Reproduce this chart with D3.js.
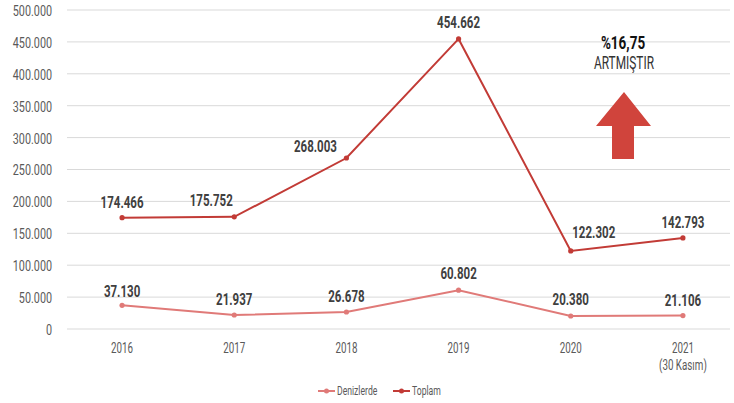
<!DOCTYPE html>
<html><head><meta charset="utf-8">
<script src="https://cdn.jsdelivr.net/npm/d3@7/dist/d3.min.js"></script>
<style>
body{margin:0;background:#fff;}
text{font-family:Roboto,"Liberation Sans",sans-serif;}
</style></head>
<body><svg id="c" width="734" height="403"></svg>
<script>
const years = ["2016","2017","2018","2019","2020","2021"];
const yearSub = ["","","","","","(30 Kasım)"];
const denizlerde = [37130, 21937, 26678, 60802, 20380, 21106];
const toplam = [174466, 175752, 268003, 454662, 122302, 142793];
const yTicks = [0,50000,100000,150000,200000,250000,300000,350000,400000,450000,500000];
const seriesNames = ["Denizlerde","Toplam"];
const colors = ["#e07a78","#c23b36"];
// label placement offsets (layout only)
const labelDx = [[0,0,0,0,0,0],[0,-23,-31,0,23,0]];
const labelDy = [[-8,-10,-10,-11,-11,-10],[-10,-11,-6,-11,-13,-10]];

const svg = d3.select("#c");
const fmt = v => d3.format(",")(v).replace(/,/g,".");
const x = d3.scaleBand().domain(years).range([66,739]).padding(0);
const cx = d => x(d)+x.bandwidth()/2;
const y = d3.scaleLinear().domain([0,500000]).range([329,10]);

function ctext(parent, px, py, str, opts){
  const g = parent.append("g").attr("transform",`translate(${px},${py})`);
  const t = g.append("text").attr("transform",`scale(${opts.sx||0.72},1)`)
    .attr("text-anchor",opts.anchor||"middle").attr("fill",opts.fill||"#404040")
    .style("font-size",(opts.size||14)+"px").style("font-weight",opts.weight||"normal")
    .text(str);
  return t;
}

// grid
svg.append("g").selectAll("line").data(yTicks).join("line")
  .attr("x1",67).attr("x2",730).attr("y1",d=>y(d)).attr("y2",d=>y(d))
  .attr("stroke","#d9d9d9").attr("stroke-width",1);

// y axis (scale-driven tick positions)
const yAxis = d3.axisLeft(y).tickValues(yTicks).tickFormat(d=>fmt(d)).tickSize(0).tickPadding(0);
const ya = svg.append("g").attr("transform","translate(52,0)").call(yAxis);
ya.select(".domain").remove();
ya.selectAll("text").attr("fill","#595959").attr("x",0).attr("dy","0.36em")
  .attr("transform","scale(0.72,1)").style("font-size","15px").style("font-family","Roboto");

// x axis
const xAxis = d3.axisBottom(x).tickSize(0).tickPadding(0);
const xa = svg.append("g").attr("transform","translate(0,353)").call(xAxis);
xa.select(".domain").remove();
xa.selectAll("text").attr("fill","#595959").attr("y",0).attr("dy",0)
  .attr("transform","scale(0.7,1)").style("font-size","14px").style("font-family","Roboto");
years.forEach((d,i)=>{ if(yearSub[i]) ctext(svg, cx(d), 370, yearSub[i], {sx:0.7,size:14,fill:"#595959"}); });

const line = d3.line().x((d,i)=>cx(years[i])).y(d=>y(d));
[denizlerde,toplam].forEach((s,k)=>{
  svg.append("path").datum(s).attr("d",line).attr("fill","none")
    .attr("stroke",colors[k]).attr("stroke-width",2);
  svg.append("g").selectAll("circle").data(s).join("circle")
    .attr("cx",(d,i)=>cx(years[i])).attr("cy",d=>y(d)).attr("r",2.6).attr("fill",colors[k]);
  const lg = svg.append("g");
  s.forEach((d,i)=>{
    ctext(lg, cx(years[i])+labelDx[k][i], y(d)+labelDy[k][i], fmt(d), {sx:0.72,size:16,weight:"bold",fill:"#404040"});
  });
});

// annotation
ctext(svg, 623, 49, "%16,75", {sx:0.75,size:18,weight:"bold",fill:"#111"});
ctext(svg, 624, 69, "ARTMIŞTIR", {sx:0.66,size:18,weight:"normal",fill:"#333"});
svg.append("path").attr("d","M624,92 L651,126 L634,126 L634,159 L612,159 L612,126 L596,126 Z")
  .attr("fill","#d0443c");

// legend
const lgd = svg.append("g").attr("transform","translate(0,391)");
const lx = [318,393];
seriesNames.forEach((n,k)=>{
  lgd.append("line").attr("x1",lx[k]).attr("x2",lx[k]+17).attr("y1",0).attr("y2",0)
    .attr("stroke",colors[k]).attr("stroke-width",2);
  lgd.append("circle").attr("cx",lx[k]+8.5).attr("cy",0).attr("r",2.5).attr("fill",colors[k]);
  ctext(lgd, lx[k]+19, 4, n, {sx:0.72,size:12,anchor:"start",fill:"#595959"});
});
</script></body></html>
